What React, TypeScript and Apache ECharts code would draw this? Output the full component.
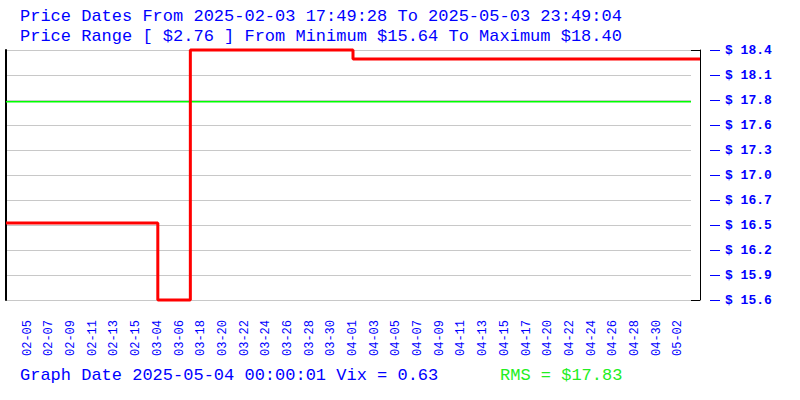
import React, { useEffect, useRef } from "react";
import * as echarts from "echarts";

const categories: string[] = [
  "02-03", "02-04", "02-05", "02-06", "02-07", "02-08", "02-09", "02-10", "02-11", "02-12",
  "02-13", "02-14", "02-15", "02-16", "03-04", "03-05", "03-06", "03-07", "03-18", "03-19",
  "03-20", "03-21", "03-22", "03-23", "03-24", "03-25", "03-26", "03-27", "03-28", "03-29",
  "03-30", "03-31", "04-01", "04-02", "04-03", "04-04", "04-05", "04-06", "04-07", "04-08",
  "04-09", "04-10", "04-11", "04-12", "04-13", "04-14", "04-15", "04-16", "04-17", "04-18",
  "04-20", "04-21", "04-22", "04-23", "04-24", "04-25", "04-26", "04-27", "04-28", "04-29",
  "04-30", "05-01", "05-02", "05-03", "05-04",
];

const prices: number[] = [
  16.49, 16.49, 16.49, 16.49, 16.49, 16.49, 16.49, 16.49, 16.49, 16.49,
  16.49, 16.49, 16.49, 16.49, 15.64, 15.64, 15.64, 18.40, 18.40, 18.40,
  18.40, 18.40, 18.40, 18.40, 18.40, 18.40, 18.40, 18.40, 18.40, 18.40,
  18.40, 18.40, 18.30, 18.30, 18.30, 18.30, 18.30, 18.30, 18.30, 18.30,
  18.30, 18.30, 18.30, 18.30, 18.30, 18.30, 18.30, 18.30, 18.30, 18.30,
  18.30, 18.30, 18.30, 18.30, 18.30, 18.30, 18.30, 18.30, 18.30, 18.30,
  18.30, 18.30, 18.30, 18.30, 18.30,
];

const priceMin = 15.64;
const priceMax = 18.40;
const tickCount = 10;
const rmsValue = 17.83;
const vixValue = 0.63;

const titleLine1 = "Price Dates From 2025-02-03 17:49:28 To 2025-05-03 23:49:04";
const titleLine2 = "Price Range [ $2.76 ] From Minimum $15.64 To Maximum $18.40";
const footerLeft = `Graph Date 2025-05-04 00:00:01 Vix = ${vixValue.toFixed(2)}`;
const footerRight = `RMS = $${rmsValue.toFixed(2)}`;

const FONT = "Liberation Mono";
const BLUE = "#0000ff";
const GREEN = "#22ee22";

export default function App() {
  const ref = useRef<HTMLDivElement>(null);

  useEffect(() => {
    if (!ref.current) return;
    const chart = echarts.init(ref.current, null, { renderer: "svg" });
    const interval = (priceMax - priceMin) / tickCount;
    const textStyle = { fontFamily: FONT, fontSize: 17, fontWeight: "normal", color: BLUE };

    chart.setOption({
      animation: false,
      backgroundColor: "#ffffff",
      title: [
        { text: titleLine1, left: 20, top: 8, padding: 0, textStyle },
        { text: titleLine2, left: 20, top: 28, padding: 0, textStyle },
        { text: footerLeft, left: 20, top: 367, padding: 0, textStyle },
        { text: footerRight, left: 500, top: 367, padding: 0, textStyle: { ...textStyle, color: GREEN } },
      ],
      grid: [
        { left: 6, right: 100, top: 50, bottom: 100 },
        { left: 6, right: 109, top: 50, bottom: 100 },
      ],
      xAxis: [
        {
          type: "category",
          gridIndex: 0,
          data: categories,
          boundaryGap: false,
          axisLine: { show: false },
          axisTick: { show: false },
          splitLine: { show: false },
          axisLabel: {
            rotate: 90,
            margin: 20,
            interval: (i: number) => i >= 2 && i <= 62 && i % 2 === 0,
            color: BLUE,
            fontFamily: FONT,
            fontSize: 12,
          },
        },
        {
          type: "category",
          gridIndex: 1,
          data: ["a", "b"],
          boundaryGap: false,
          show: false,
        },
      ],
      yAxis: [
        {
          type: "value",
          gridIndex: 0,
          position: "right",
          offset: 10,
          min: priceMin,
          max: priceMax,
          interval,
          axisLine: { show: false },
          axisTick: { show: true, length: 10, lineStyle: { color: BLUE, width: 1 } },
          splitLine: { show: false },
          axisLabel: {
            margin: 15,
            color: BLUE,
            fontFamily: FONT,
            fontSize: 13,
            fontWeight: "bold",
            formatter: (v: number) => "$ " + v.toFixed(1),
          },
        },
        {
          type: "value",
          gridIndex: 0,
          position: "right",
          min: priceMin,
          max: priceMax,
          interval: priceMax - priceMin,
          axisLine: { show: true, lineStyle: { color: "#000000", width: 1 } },
          axisTick: { show: true, inside: true, length: 9, lineStyle: { color: "#000000" } },
          axisLabel: { show: false },
          splitLine: { show: false },
        },
        {
          type: "value",
          gridIndex: 1,
          position: "left",
          min: priceMin,
          max: priceMax,
          interval,
          axisLine: { show: true, onZero: false, lineStyle: { color: "#000000", width: 2 } },
          axisTick: { show: false },
          axisLabel: { show: false },
          splitLine: { show: true, lineStyle: { color: "#c8c8c8", width: 1 } },
        },
      ],
      series: [
        {
          type: "line",
          xAxisIndex: 1,
          yAxisIndex: 2,
          data: [rmsValue, rmsValue],
          symbol: "none",
          lineStyle: { color: "#00ff00", width: 1.5 },
          z: 1,
        },
        {
          type: "line",
          xAxisIndex: 0,
          yAxisIndex: 0,
          data: prices,
          step: "end",
          symbol: "none",
          lineStyle: { color: "#ff0000", width: 3 },
          clip: false,
          z: 3,
        },
      ],
    });

    return () => chart.dispose();
  }, []);

  return (
    <div
      ref={ref}
      style={{ position: "absolute", left: 0, top: 0, width: 800, height: 400 }}
    />
  );
}
